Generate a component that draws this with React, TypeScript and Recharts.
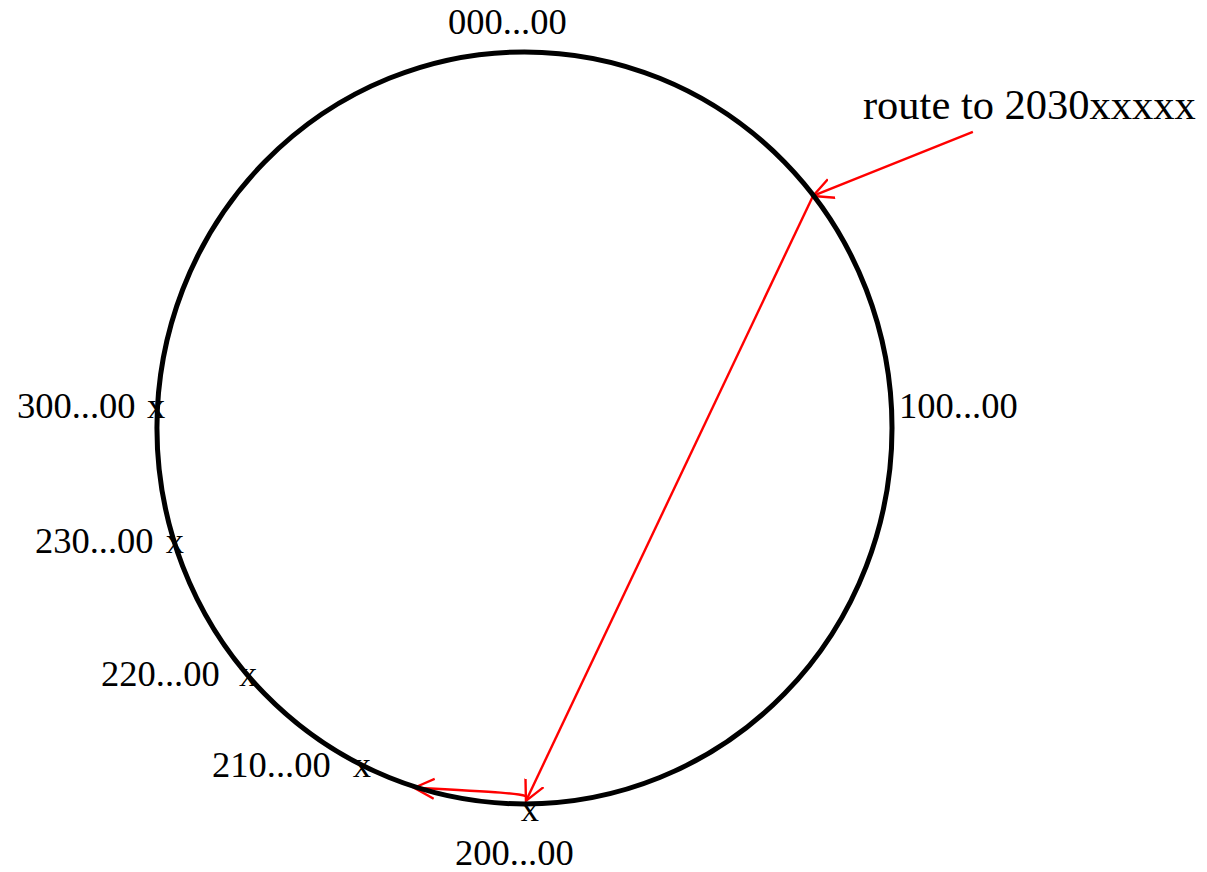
import React from 'react';
import { ComposedChart, XAxis, YAxis, Scatter, Line } from 'recharts';

// Everything is placed in "ring units": ring centre at (0,0), ring radius 1.
const SERIF = '"Liberation Serif", "Times New Roman", Times, serif';
const RED = '#ff0000';

// the four quarter addresses sit on the ring at top / right / bottom / left
const ringPoints = [
  { x: 0, y: 1, address: '000...00' },
  { x: 1, y: 0, address: '100...00' },
  { x: 0, y: -1, address: '200...00' },
  { x: -1, y: 0, address: '300...00' },
];

const addressLabels = [
  { x: -0.208, y: 1.048, text: '000...00' },
  { x: 1.019, y: 0.027, text: '100...00' },
  { x: -1.381, y: 0.027, text: '300...00' },
  { x: -1.332, y: -0.332, text: '230...00' },
  { x: -1.152, y: -0.686, text: '220...00' },
  { x: -0.85, y: -0.928, text: '210...00' },
  { x: -0.189, y: -1.162, text: '200...00' },
];

// "x" marks of the nodes that exist on the ring
const nodeMarks = [
  { x: -1.027, y: 0.027, text: 'x' },
  { x: -0.976, y: -0.332, text: 'x' },
  { x: -0.777, y: -0.686, text: 'x' },
  { x: -0.467, y: -0.928, text: 'x' },
  { x: -0.01, y: -1.045, text: 'x' },
];

const routeLabel = [{ x: 0.921, y: 0.822, text: 'route to 2030xxxxx' }];

// routing hops
const hopIn = [
  { x: 1.22, y: 0.787 },
  { x: 0.785, y: 0.617 },
];
const hopAcross = [
  { x: 0.785, y: 0.617 },
  { x: 0.004, y: -0.992 },
];
const hopBack = [
  { x: 0.004, y: -0.979 },
  { x: -0.065, y: -0.97 },
  { x: -0.3, y: -0.957 },
];

const xDomain = [-1.427, 1.857];
const yDomain = [-1.181, 1.138];

// draws the ring through the pixel positions of the four quarter points
const RingOutline = (props: any) => {
  const pts = (props.points || []).filter((p: any) => p.x != null && p.y != null);
  if (!pts.length) return <g />;
  const xs = pts.map((p: any) => p.x);
  const ys = pts.map((p: any) => p.y);
  const left = Math.min(...xs);
  const right = Math.max(...xs);
  const top = Math.min(...ys);
  const bottom = Math.max(...ys);
  return (
    <ellipse
      cx={(left + right) / 2}
      cy={(top + bottom) / 2}
      rx={(right - left) / 2}
      ry={(bottom - top) / 2}
      fill="none"
      stroke="#000"
      strokeWidth={5}
    />
  );
};

const textShape = (size: number) => (p: any) => (
  <text x={p.cx} y={p.cy} fontSize={size} fontFamily={SERIF} fill="#000">
    {p.payload.text}
  </text>
);

export default function App() {
  return (
    <div>
      <style>{'body{margin:0}'}</style>
      <ComposedChart width={1207} height={872} margin={{ top: 0, right: 0, bottom: 0, left: 0 }}>
        <defs>
          <marker
            id="openArrow"
            markerUnits="userSpaceOnUse"
            viewBox="0 0 40 40"
            markerWidth={40}
            markerHeight={40}
            refX={20}
            refY={20}
            orient="auto"
          >
            <path d="M0,10 L20,20 L0,30" fill="none" stroke={RED} strokeWidth={2.4} />
          </marker>
        </defs>
        <XAxis type="number" dataKey="x" domain={xDomain} hide allowDataOverflow />
        <YAxis type="number" dataKey="y" domain={yDomain} hide allowDataOverflow />

        <Scatter
          data={ringPoints}
          line={RingOutline}
          lineType="joint"
          shape={() => <g />}
          isAnimationActive={false}
        />

        <Line data={hopIn} dataKey="y" type="linear" stroke={RED} strokeWidth={2.4} dot={false} activeDot={false}
          markerEnd="url(#openArrow)" isAnimationActive={false} />
        <Line data={hopAcross} dataKey="y" type="linear" stroke={RED} strokeWidth={2.4} dot={false} activeDot={false}
          markerEnd="url(#openArrow)" isAnimationActive={false} />
        <Line data={hopBack} dataKey="y" type="natural" stroke={RED} strokeWidth={2.4} dot={false} activeDot={false}
          markerEnd="url(#openArrow)" isAnimationActive={false} />

        <Scatter data={addressLabels} shape={textShape(36.5)} isAnimationActive={false} />
        <Scatter data={nodeMarks} shape={textShape(36.5)} isAnimationActive={false} />
        <Scatter data={routeLabel} shape={textShape(42.5)} isAnimationActive={false} />
      </ComposedChart>
    </div>
  );
}
